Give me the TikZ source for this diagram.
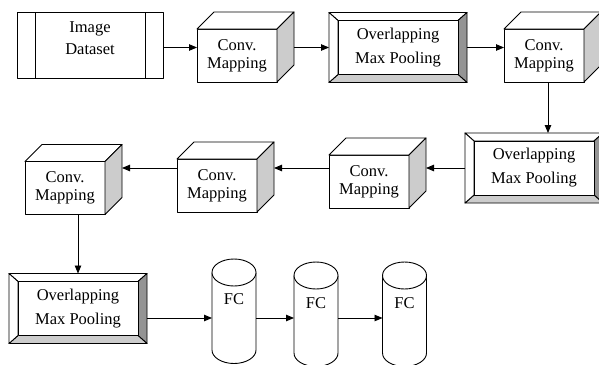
\documentclass[tikz,border=0pt]{standalone}
\usepackage{fontspec}
\setmainfont{Liberation Serif}
\usetikzlibrary{arrows.meta}
\definecolor{sidegray}{gray}{0.80}
\definecolor{darkbevel}{gray}{0.58}
\definecolor{lightbevel}{gray}{0.80}
\newcommand\cubefaces[1]{%
  \draw[fill=white] (#1.north west) -- ++(17,-17) -- ([shift={(17,-17)}]#1.north east) -- (#1.north east) -- cycle;
  \draw[fill=sidegray] (#1.north east) -- ++(17,-17) -- ([shift={(17,-17)}]#1.south east) -- (#1.south east) -- cycle;}
\newcommand\poolfaces[2]{%
  \draw[fill=white] (#1.north west) -- (#1.north east) -- ([shift={(-9,8)}]#1.north east) -- ([shift={(9,8)}]#1.north west) -- cycle;
  \draw[fill=darkbevel] (#1.north east) -- (#1.south east) -- ([shift={(-9,-8)}]#1.south east) -- ([shift={(-9,8)}]#1.north east) -- cycle;
  \draw[fill=lightbevel] (#1.south east) -- (#1.south west) -- ([shift={(9,-8)}]#1.south west) -- ([shift={(-9,-8)}]#1.south east) -- cycle;
  \draw[fill=white] (#1.south west) -- (#1.north west) -- ([shift={(9,8)}]#1.north west) -- ([shift={(9,-8)}]#1.south west) -- cycle;
  \node[poolinner] (#1t) at (#1.center) {#2};}
\newcommand\cylfaces[1]{%
  \draw[fill=white] (#1.north west) -- (#1.south west) arc[start angle=180,end angle=360,x radius=22pt,y radius=13.5pt] -- (#1.north east);
  \draw[fill=white] (#1.north) ellipse[x radius=22pt,y radius=13.5pt];}
\begin{document}
\begin{tikzpicture}[x=1pt,y=-1pt,line width=0.9pt,line join=round,
  txt/.style={font=\fontsize{16.5}{18}\selectfont,align=center,inner sep=0pt},
  cubefront/.style={draw,fill=white,minimum width=80pt,minimum height=53pt,outer sep=0pt,txt},
  poolouter/.style={minimum width=138pt,minimum height=70pt,outer sep=0pt,inner sep=0pt},
  poolinner/.style={draw,fill=white,minimum width=120pt,minimum height=54pt,outer sep=0pt,txt},
  cyl/.style={minimum width=44pt,minimum height=77.5pt,outer sep=0pt,inner sep=0pt},
  arr/.style={-{Triangle[length=8pt,width=6.5pt]}}]
\useasboundingbox (0,0) rectangle (599,364);
\clip (0,0) rectangle (599,364);
\fill[white] (0,0) rectangle (599,364);

% Image dataset
\node[draw,minimum width=146pt,minimum height=66pt,outer sep=0pt] (data) at (90,45) {};
\draw ([shift={(18,0)}]data.north west) -- ([shift={(18,0)}]data.south west);
\draw ([shift={(-18,0)}]data.north east) -- ([shift={(-18,0)}]data.south east);
\node[txt] (datat) at ([shift={(0,-6.5)}]data.center) {Image\\[4pt]Dataset};

% top row
\node[cubefront] (c1) at (237,55.5) {Conv.\\Mapping};
\cubefaces{c1}
\node[poolouter] (p1) at (398,47.5) {};
\poolfaces{p1}{Overlapping\\[6pt]Max Pooling}
\node[cubefront] (c2) at (544,55.5) {Conv.\\Mapping};
\cubefaces{c2}

% middle row
\node[poolouter] (p2) at (534,168) {};
\poolfaces{p2}{Overlapping\\[6pt]Max Pooling}
\node[cubefront] (c3) at (369,181.5) {Conv.\\Mapping};
\cubefaces{c3}
\node[cubefront] (c4) at (217,185.5) {Conv.\\Mapping};
\cubefaces{c4}
\node[cubefront] (c5) at (65,188) {Conv.\\Mapping};
\cubefaces{c5}

% bottom row
\node[poolouter] (p3) at (78,308.5) {};
\poolfaces{p3}{Overlapping\\[6pt]Max Pooling}
\node[cyl] (f1) at (234,311.25) {};
\cylfaces{f1}
\node[txt] (f1t) at (234,299.5) {FC};
\node[cyl] (f2) at (316,314.25) {};
\cylfaces{f2}
\node[txt] (f2t) at (316,303) {FC};
\node[cyl] (f3) at (404.5,314.25) {};
\cylfaces{f3}
\node[txt] (f3t) at (404.5,303) {FC};
\coordinate (row) at (0,318);

% connectors
\draw[arr] (data.east |- p1.west) -- (c1.west |- p1.west);
\draw[arr] ([shift={(17,0)}]c1.east |- p1.west) -- (p1.west);
\draw[arr] (p1.east) -- (c2.west |- p1.east);
\draw[arr] ([shift={(4,0)}]c2.south) -- ([shift={(4,0)}]c2.south |- p2.north);
\draw[arr] (p2.west) -- ([shift={(17,0)}]c3.east |- p2.west);
\draw[arr] (c3.west |- p2.west) -- ([shift={(17,0)}]c4.east |- p2.west);
\draw[arr] (c4.west |- p2.west) -- ([shift={(17,0)}]c5.east |- p2.west);
\draw[arr] (p3.north |- c5.south) -- (p3.north);
\draw[arr] (p3.east |- row) -- (f1.west |- row);
\draw[arr] (f1.east |- row) -- (f2.west |- row);
\draw[arr] (f2.east |- row) -- (f3.west |- row);
\end{tikzpicture}
\end{document}
